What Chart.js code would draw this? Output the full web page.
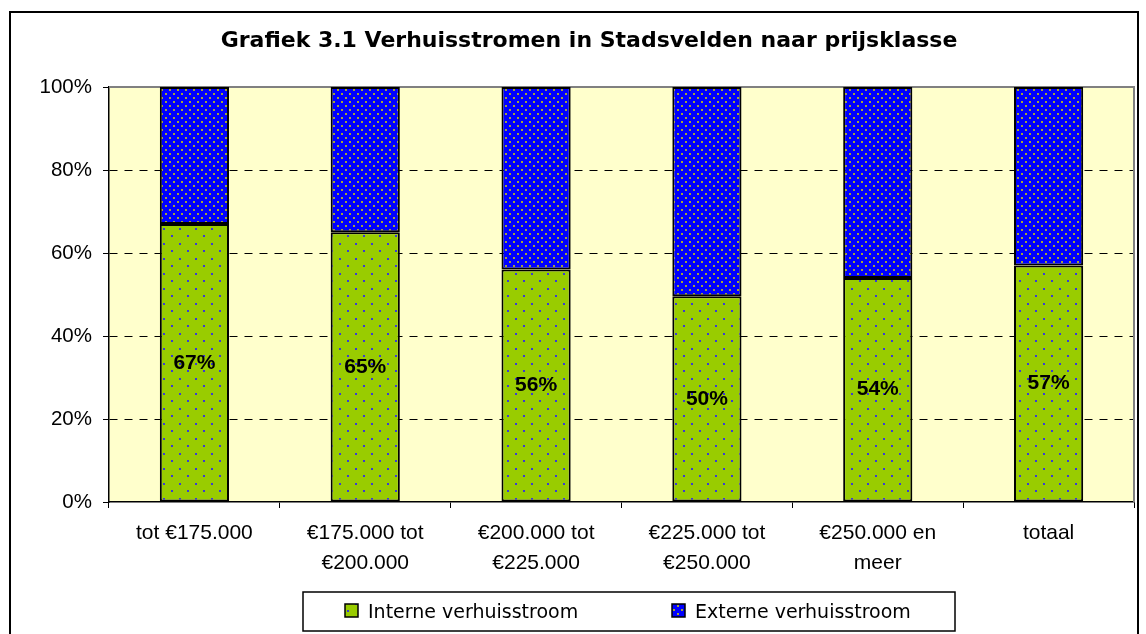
<!DOCTYPE html>
<html>
<head>
<meta charset="utf-8">
<script src="https://cdn.jsdelivr.net/npm/chart.js@4/dist/chart.umd.min.js"></script>
<style>
  html, body { margin: 0; padding: 0; background: #ffffff; }
  #wrap { width: 1146px; height: 634px; position: relative; }
</style>
</head>
<body>
<div id="wrap"><canvas id="c"></canvas></div>
<script>
const categories = [
  ['tot €175.000'],
  ['€175.000 tot', '€200.000'],
  ['€200.000 tot', '€225.000'],
  ['€225.000 tot', '€250.000'],
  ['€250.000 en', 'meer'],
  ['totaal']
];
const interne = [67, 65, 56, 49.6, 54, 57];
const externe = [33, 35, 44, 50.4, 46, 43];
const seriesNames = ['Interne verhuisstroom', 'Externe verhuisstroom'];
const yTicks = [0, 20, 40, 60, 80, 100];
const titleText = 'Grafiek 3.1 Verhuisstromen in Stadsvelden naar prijsklasse';

function makePattern(bg, dot, w, h, dots) {
  const c = document.createElement('canvas');
  c.width = w; c.height = h;
  const g = c.getContext('2d');
  g.fillStyle = bg; g.fillRect(0, 0, w, h);
  g.fillStyle = dot;
  dots.forEach(d => g.fillRect(d[0], d[1], 2, 2));
  return g.createPattern(c, 'repeat');
}
const greenPat = makePattern('#99CC00', '#3b3bd6', 16, 15, [[3, 3], [11, 10]]);
const bluePat = makePattern('#0000FF', '#a3a33a', 8, 8, [[1, 1], [5, 5]]);

const bgPlugin = {
  id: 'bgPlugin',
  beforeDraw(chart) {
    const ctx = chart.ctx;
    ctx.save();
    ctx.fillStyle = '#ffffff';
    ctx.fillRect(0, 0, chart.width, chart.height);
    ctx.lineWidth = 2;
    ctx.strokeStyle = '#000000';
    ctx.strokeRect(10, 12, 1128, 700);
    const a = chart.chartArea;
    ctx.fillStyle = '#FFFFCC';
    ctx.fillRect(a.left, a.top, a.right - a.left, a.bottom - a.top);
    ctx.restore();
  },
  beforeDatasetsDraw(chart) {
    const ctx = chart.ctx;
    const a = chart.chartArea;
    ctx.save();
    ctx.strokeStyle = '#808080';
    ctx.lineWidth = 2;
    ctx.beginPath();
    ctx.moveTo(a.left, a.top);
    ctx.lineTo(a.right, a.top);
    ctx.lineTo(a.right, a.bottom);
    ctx.stroke();
    ctx.restore();
  },
  afterDatasetsDraw(chart) {
    const ctx = chart.ctx;
    const meta = chart.getDatasetMeta(0);
    ctx.save();
    ctx.fillStyle = '#000000';
    ctx.font = 'bold 21px "Liberation Sans", Arial, sans-serif';
    ctx.textAlign = 'center';
    ctx.textBaseline = 'middle';
    meta.data.forEach((bar, i) => {
      const yMid = (bar.y + bar.base) / 2;
      ctx.fillText(Math.round(interne[i]) + '%', bar.x, yMid);
    });
    ctx.restore();
  },
  afterDraw(chart) {
    const ctx = chart.ctx;
    ctx.save();
    const bx = 303, by = 592, bw = 652, bh = 39;
    ctx.strokeStyle = '#000000';
    ctx.lineWidth = 1.5;
    ctx.strokeRect(bx, by, bw, bh);
    ctx.font = '19px "DejaVu Sans", sans-serif';
    ctx.textBaseline = 'alphabetic';
    ctx.textAlign = 'left';
    const items = [
      { sx: 345, tx: 368 },
      { sx: 672, tx: 695 }
    ];
    chart.data.datasets.forEach((ds, i) => {
      const it = items[i];
      ctx.fillStyle = ds.backgroundColor;
      ctx.fillRect(it.sx, 604, 13, 13);
      ctx.lineWidth = 1.5;
      ctx.strokeStyle = '#000000';
      ctx.strokeRect(it.sx, 604, 13, 13);
      ctx.fillStyle = '#000000';
      ctx.fillText(ds.label, it.tx, 618);
    });
    ctx.restore();
  }
};

new Chart(document.getElementById('c'), {
  type: 'bar',
  data: {
    labels: categories,
    datasets: [
      { label: seriesNames[0], data: interne, backgroundColor: greenPat, borderColor: '#000000', borderWidth: 2, borderSkipped: false },
      { label: seriesNames[1], data: externe, backgroundColor: bluePat, borderColor: '#000000', borderWidth: 2, borderSkipped: false }
    ]
  },
  options: {
    responsive: true,
    maintainAspectRatio: false,
    animation: false,
    layout: { padding: { left: 32, right: 0, top: 0, bottom: 48 } },
    datasets: { bar: { barPercentage: 0.405, categoryPercentage: 1.0 } },
    plugins: {
      legend: { display: false },
      tooltip: { enabled: false },
      title: {
        display: true,
        text: titleText,
        color: '#000000',
        font: { family: '"DejaVu Sans", sans-serif', size: 22, weight: 'bold', lineHeight: 1.2 },
        padding: { top: 28, bottom: 32.6 }
      }
    },
    scales: {
      x: {
        stacked: true,
        grid: { display: true, drawOnChartArea: false, drawTicks: true, tickLength: 6, color: '#000000', offset: true },
        border: { display: true, color: '#000000', width: 1.5 },
        ticks: {
          color: '#000000',
          padding: 11,
          maxRotation: 0,
          autoSkip: false,
          font: { family: '"Liberation Sans", Arial, sans-serif', size: 21, lineHeight: 1.4 }
        },
        afterFit(scale) { scale.height = 84; }
      },
      y: {
        stacked: true,
        min: 0,
        max: 100,
        afterBuildTicks(scale) { scale.ticks = yTicks.map(v => ({ value: v })); },
        grid: {
          drawTicks: true,
          tickLength: 6,
          color: (c) => (c.tick && (c.tick.value === 0 || c.tick.value === 100)) ? 'rgba(0,0,0,0)' : '#000000',
          tickColor: '#000000',
          lineWidth: 1
        },
        border: { display: true, color: '#000000', width: 1.5, dash: [8, 7] },
        ticks: {
          color: '#000000',
          padding: 11,
          font: { family: '"Liberation Sans", Arial, sans-serif', size: 20.5 },
          callback: (v) => v + '%'
        },
        afterFit(scale) { scale.width = 77; }
      },
      yRightSpace: {
        position: 'right',
        display: true,
        grid: { display: false },
        border: { display: false },
        ticks: { display: false },
        afterFit(scale) { scale.width = 12; }
      }
    }
  },
  plugins: [bgPlugin]
});
</script>
</body>
</html>
